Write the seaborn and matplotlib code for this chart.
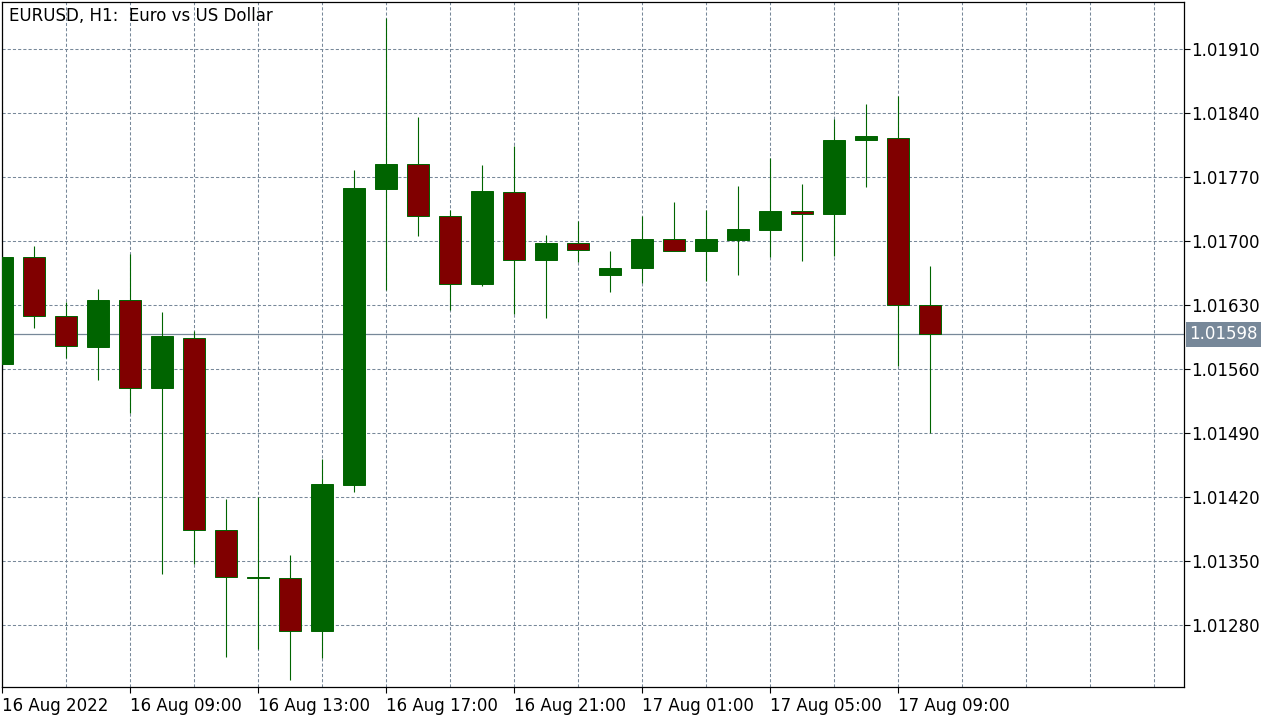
import matplotlib
matplotlib.use("Agg")
import matplotlib.pyplot as plt
import matplotlib.transforms as mtransforms
import numpy as np
import seaborn as sns

# EURUSD H1 candles, 16 Aug 2022 05:00 -> 17 Aug 2022 10:00
opens = [1.01566, 1.01682, 1.01618, 1.01584, 1.01636, 1.01539, 1.01594, 1.01384,
         1.01333, 1.01331, 1.01273, 1.01433, 1.01757, 1.01784, 1.01727, 1.01653,
         1.01754, 1.01679, 1.01698, 1.01663, 1.01670, 1.01702, 1.01689, 1.01701,
         1.01712, 1.01733, 1.01729, 1.01810, 1.01813, 1.01630]
highs = [1.01690, 1.01695, 1.01633, 1.01648, 1.01686, 1.01622, 1.01602, 1.01418,
         1.01420, 1.01357, 1.01462, 1.01778, 1.01944, 1.01836, 1.01734, 1.01783,
         1.01804, 1.01707, 1.01722, 1.01689, 1.01727, 1.01743, 1.01734, 1.01760,
         1.01791, 1.01762, 1.01833, 1.01850, 1.01859, 1.01673]
lows = [1.01558, 1.01605, 1.01572, 1.01548, 1.01512, 1.01336, 1.01347, 1.01245,
        1.01254, 1.01220, 1.01244, 1.01426, 1.01646, 1.01706, 1.01625, 1.01651,
        1.01620, 1.01616, 1.01677, 1.01644, 1.01654, 1.01689, 1.01656, 1.01663,
        1.01683, 1.01678, 1.01684, 1.01759, 1.01563, 1.01490]
closes = [1.01682, 1.01618, 1.01585, 1.01636, 1.01539, 1.01596, 1.01384, 1.01333,
          1.01331, 1.01273, 1.01434, 1.01758, 1.01784, 1.01727, 1.01653, 1.01755,
          1.01679, 1.01698, 1.01690, 1.01671, 1.01702, 1.01689, 1.01702, 1.01713,
          1.01733, 1.01729, 1.01811, 1.01815, 1.01630, 1.01598]

price_ticks = [1.01280, 1.01350, 1.01420, 1.01490, 1.01560, 1.01630,
               1.01700, 1.01770, 1.01840, 1.01910]
time_labels = ["16 Aug 2022", "16 Aug 09:00", "16 Aug 13:00", "16 Aug 17:00",
               "16 Aug 21:00", "17 Aug 01:00", "17 Aug 05:00", "17 Aug 09:00"]
last_price = 1.01598

BULL = "#006400"
BEAR = "#800000"
GRID = "#778899"
FS = 12

sns.set_style("white")
plt.rcParams["font.family"] = ["DejaVu Sans"]
plt.rcParams["font.size"] = FS

fig = plt.figure(figsize=(12.8, 7.2), dpi=100)
ax = fig.add_axes([2 / 1280, 33 / 720, 1182 / 1280, 685 / 720])

o = np.array(opens)
h = np.array(highs)
l = np.array(lows)
c = np.array(closes)
idx = np.arange(len(o))
up = c >= o

# wicks
ax.vlines(idx, l, h, color=BULL, linewidth=0.8, zorder=2)

# bodies
bottoms = np.minimum(o, c)
heights = np.maximum(np.abs(c - o), 0.000012)
ax.bar(idx[up], heights[up], bottom=bottoms[up], width=0.7,
       color=BULL, edgecolor=BULL, linewidth=0.7, zorder=3)
ax.bar(idx[~up], heights[~up], bottom=bottoms[~up], width=0.7,
       color=BEAR, edgecolor=BULL, linewidth=0.7, zorder=3)

# current price line
ax.axhline(last_price, color=GRID, linewidth=0.9, zorder=1)

ax.set_xlim(0, 1182 / 32)
ax.set_ylim(1.012122, 1.019614)

# grid
for gx in range(0, 38, 2):
    ax.axvline(gx, color=GRID, linewidth=0.75, linestyle=(0, (3, 2)), zorder=0)
for gy in price_ticks:
    ax.axhline(gy, color=GRID, linewidth=0.75, linestyle=(0, (3, 2)), zorder=0)

# axes / ticks
for sp in ax.spines.values():
    sp.set_color("black")
    sp.set_linewidth(0.9)

ax.yaxis.tick_right()
ax.set_yticks(price_ticks)
ax.set_yticklabels([f"{p:.5f}" for p in price_ticks])
ax.tick_params(axis="y", right=True, left=False, length=4, width=0.8,
               pad=1, labelsize=FS, colors="black")

ax.set_xticks(np.arange(0, len(time_labels) * 4, 4))
ax.set_xticklabels(time_labels, ha="left")
ax.tick_params(axis="x", bottom=True, length=4, width=0.8, pad=3,
               labelsize=FS, colors="black")
ax.set_xlabel("")
ax.set_ylabel("")

# price label on the axis
trans = mtransforms.blended_transform_factory(ax.transAxes, ax.transData)
ax.text(1.0045, last_price, f"{last_price:.5f}", transform=trans,
        ha="left", va="center", color="white", fontsize=FS,
        bbox=dict(boxstyle="square,pad=0.22", fc=GRID, ec="none"),
        clip_on=False, zorder=5)

fig.text(9 / 1280, 1 - 16 / 720, "EURUSD, H1:  Euro vs US Dollar",
         ha="left", va="center", fontsize=FS, color="black")

fig.savefig("out.png", dpi=100)
